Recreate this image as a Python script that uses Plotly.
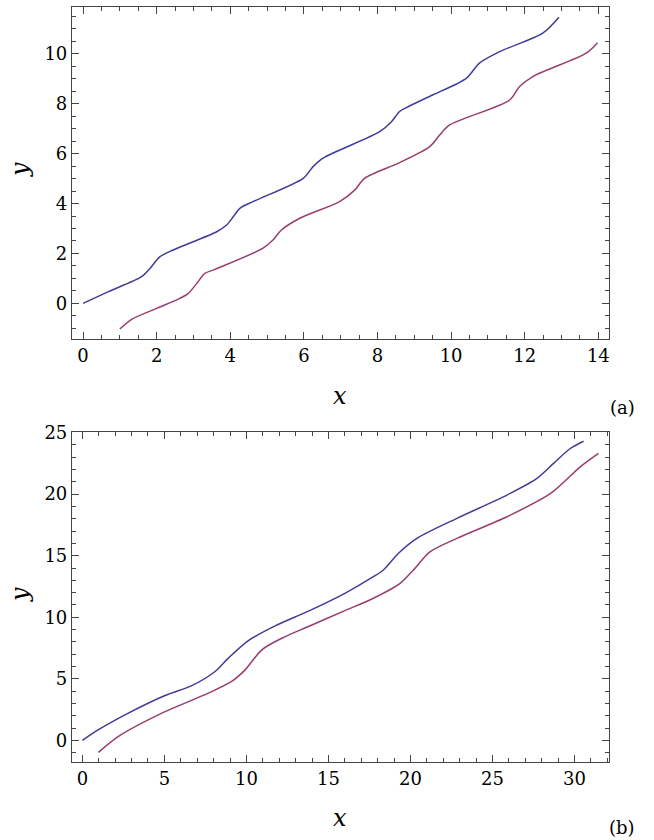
import plotly.graph_objects as go
from plotly.subplots import make_subplots

# Panel (a) data
a_blue_x = [0, 0.69, 1.59, 1.82, 2.09, 2.45, 3.63, 3.9, 4.08, 4.26, 4.62, 5.98, 6.25,
            6.52, 8.06, 8.38, 8.6, 8.87, 9.51, 10.41, 10.77, 11.32, 12.49, 12.93]
a_blue_y = [0, 0.47, 1.07, 1.4, 1.87, 2.14, 2.87, 3.14, 3.47, 3.81, 4.08, 5.01, 5.48,
            5.82, 6.88, 7.28, 7.69, 7.91, 8.36, 9.02, 9.63, 10.09, 10.83, 11.47]
a_red_x = [1.0, 1.32, 2.0, 2.63, 2.86, 3.09, 3.31, 3.58, 4.89, 5.16, 5.39, 5.89, 6.97,
           7.38, 7.65, 8.6, 9.42, 9.69, 9.96, 11.59, 11.86, 12.22, 13.67, 13.98]
a_red_y = [-1.03, -0.64, -0.2, 0.2, 0.4, 0.8, 1.2, 1.36, 2.21, 2.54, 2.94, 3.41, 4.08,
           4.54, 5.01, 5.64, 6.28, 6.75, 7.15, 8.15, 8.69, 9.09, 10.03, 10.45]

# Panel (b) data
b_blue_x = [0, 0.98, 2.6, 5.04, 6.67, 8.09, 8.9, 10.12, 11.75, 13.78, 16.0, 17.74,
            18.35, 19.27, 20.39, 22.83, 25.88, 27.71, 28.72, 29.74, 30.55]
b_blue_y = [0, 0.87, 2.08, 3.65, 4.45, 5.6, 6.68, 8.1, 9.3, 10.5, 11.95, 13.3,
            13.84, 15.2, 16.41, 18.04, 19.93, 21.28, 22.5, 23.71, 24.3]
b_red_x = [0.98, 2.2, 4.63, 7.68, 9.1, 9.92, 10.94, 12.16, 13.78, 16.0, 17.74, 19.37,
           20.18, 21.2, 22.83, 25.88, 28.54, 30.35, 31.46]
b_red_y = [-0.97, 0.33, 2.08, 3.84, 4.79, 5.73, 7.36, 8.3, 9.25, 10.54, 11.55, 12.76,
           13.84, 15.33, 16.41, 18.17, 20.06, 22.22, 23.31]

BLUE = "#3F3D99"
RED = "#993D71"
FRAME = "#444444"
FONT = "DejaVu Serif"

fig = make_subplots(rows=2, cols=1)

for x, y, c, r in [(a_blue_x, a_blue_y, BLUE, 1), (a_red_x, a_red_y, RED, 1),
                   (b_blue_x, b_blue_y, BLUE, 2), (b_red_x, b_red_y, RED, 2)]:
    fig.add_trace(go.Scatter(x=x, y=y, mode="lines",
                             line=dict(color=c, width=1.5, shape="spline", smoothing=0.8),
                             showlegend=False), row=r, col=1)

def ax(rng, dtick, minor):
    return dict(range=rng, dtick=dtick, tick0=0, ticks="inside", ticklen=6.5, tickwidth=1,
                tickcolor=FRAME, showline=True, linecolor=FRAME, linewidth=1.2,
                mirror="allticks", showgrid=False, zeroline=False, automargin=False,
                tickfont=dict(family=FONT, size=18, color="black"),
                minor=dict(ticks="inside", ticklen=4, dtick=minor, tick0=0,
                           tickcolor=FRAME, showgrid=False))

fig.update_layout(
    width=654, height=840,
    margin=dict(l=0, r=0, t=0, b=0, autoexpand=False),
    plot_bgcolor="white", paper_bgcolor="white",
    xaxis=dict(domain=[0.1101, 0.9312], anchor="y", **ax([-0.3, 14.29], 2, 0.5)),
    yaxis=dict(domain=[0.5964, 0.9917], anchor="x", **ax([-1.43, 11.88], 2, 0.5)),
    xaxis2=dict(domain=[0.1101, 0.9312], anchor="y2", **ax([-0.63, 32.1], 5, 1)),
    yaxis2=dict(domain=[0.0929, 0.4857], anchor="x2", **ax([-1.75, 25.05], 5, 1)),
)

ann = [
    dict(text="<i>x</i>", x=340, y=396, size=24, angle=0),
    dict(text="<i>y</i>", x=20, y=170, size=24, angle=-90),
    dict(text="(a)", x=622, y=407, size=18, angle=0),
    dict(text="<i>x</i>", x=340, y=818, size=24, angle=0),
    dict(text="<i>y</i>", x=20, y=595, size=24, angle=-90),
    dict(text="(b)", x=622, y=827, size=18, angle=0),
]
for a in ann:
    fig.add_annotation(text=a["text"], x=a["x"] / 654, y=1 - a["y"] / 840,
                       xref="paper", yref="paper", showarrow=False,
                       xanchor="center", yanchor="middle", textangle=a["angle"],
                       font=dict(family=FONT, size=a["size"], color="black"))

fig.write_html(
    "out.html",
    config={"displayModeBar": False},
    post_script=("document.body.style.margin='0';"
                 "var g=document.getElementById('{plot_id}');"
                 "g.style.position='absolute';g.style.top='0px';g.style.left='0px';"),
)
